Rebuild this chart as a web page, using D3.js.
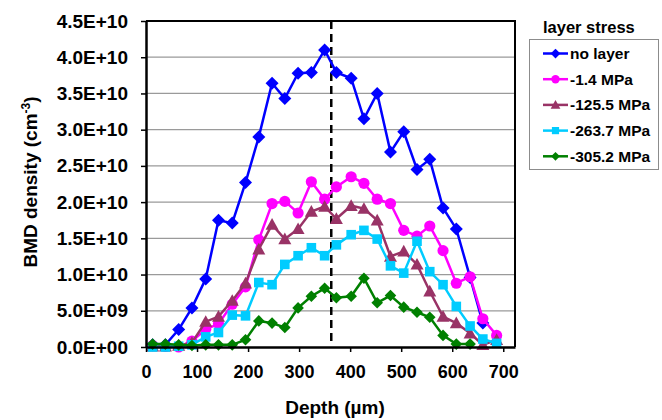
<!DOCTYPE html>
<html>
<head>
<meta charset="utf-8">
<script src="https://cdn.jsdelivr.net/npm/d3@7"></script>
<style>
  html, body { margin: 0; padding: 0; background: #fff; }
  svg { display: block; font-family: "Liberation Sans", Arial, sans-serif; font-weight: bold; }
</style>
</head>
<body>
<svg id="chart" width="662" height="420"></svg>
<script>
// ---- data ----
const depth = [13, 38, 64, 90, 117, 142, 169, 195, 221, 247, 272, 298, 324, 350, 373, 402, 427, 453, 479, 505, 531, 556, 582, 608, 635, 660, 687];
const seriesNames = ["no layer", "-1.4 MPa", "-125.5 MPa", "-263.7 MPa", "-305.2 MPa"];
const noLayer  = [0.3, 0.3, 2.4, 5.4, 9.4, 17.5, 17.1, 22.7, 29.0, 36.4, 34.3, 37.8, 37.9, 41.0, 37.9, 37.1, 31.5, 35.0, 26.9, 29.7, 24.5, 25.9, 19.2, 16.3, 9.6, 3.3, null];
const mpa1_4   = [0.2, 0.1, 0.0, 0.8, 2.45, 3.2, 5.9, 8.3, 14.8, 19.8, 20.1, 18.5, 22.8, 20.4, 22.1, 23.5, 22.6, 20.4, 19.8, 16.1, 15.3, 16.7, 13.3, 8.8, 9.7, 3.9, 1.6];
const mpa125_5 = [0.1, 0.1, 0.2, 0.6, 3.5, 4.2, 6.4, 8.8, 13.5, 16.9, 14.9, 16.3, 18.7, 19.4, 17.7, 19.5, 19.1, 17.5, 12.5, 13.2, 11.4, 7.7, 4.2, 3.3, 1.9, 0.3, 1.0];
const mpa263_7 = [0.0, 0.0, 0.1, 0.3, 1.4, 2.0, 4.4, 4.3, 8.9, 8.6, 11.4, 12.6, 13.7, 12.6, 14.1, 15.5, 16.1, 14.9, 11.2, 10.2, 14.6, 10.4, 8.6, 5.6, 2.9, 1.1, 0.5];
const mpa305_2 = [0.4, 0.4, 0.3, 0.2, 0.3, 0.3, 0.3, 1.0, 3.6, 3.3, 2.7, 5.4, 7.0, 8.1, 6.8, 7.0, 9.5, 6.1, 7.1, 5.5, 4.8, 4.1, 1.6, 0.4, 0.4, null, null];
const valueUnit = 1e9;          // series values above are in units of 1e9 cm^-3
const xTicks = [0, 100, 200, 300, 400, 500, 600, 700];
const yTicks = [0, 5e9, 1e10, 1.5e10, 2e10, 2.5e10, 3e10, 3.5e10, 4e10, 4.5e10];
const markerDepth = 363;        // dashed vertical line
const xMax = 723, yMax = 4.5e10;

// ---- styles ----
const colors  = ["#0000FF", "#FF00FF", "#993366", "#00CCFF", "#008000"];
const symbols = ["diamond", "circle", "triangle", "square", "diamondSmall"];
const allSeries = [noLayer, mpa1_4, mpa125_5, mpa263_7, mpa305_2];

const svg = d3.select("#chart");
const L = 146, R = 515, T = 21, B = 347;
const x = d3.scaleLinear().domain([0, xMax]).range([L, R]);
const y = d3.scaleLinear().domain([0, yMax]).range([B, T]);

function fmtExp(v) {
  const [m, e] = v.toExponential(1).split("e");
  const sign = e[0] === "-" ? "-" : "+";
  const digits = e.replace(/[+-]/, "").padStart(2, "0");
  return m + "E" + sign + digits;
}

function markerPath(type, s) {
  switch (type) {
    case "diamond": { const r = 6.5 * s; return `M0,${-r}L${r},0L0,${r}L${-r},0Z`; }
    case "diamondSmall": { const r = 5.8 * s; return `M0,${-r}L${r},0L0,${r}L${-r},0Z`; }
    case "circle": { const r = 5.6 * s; return `M${r},0A${r},${r} 0 1,1 ${-r},0A${r},${r} 0 1,1 ${r},0Z`; }
    case "triangle": { const h = 6.5 * s; return `M0,${-h}L${h},${h * 0.8}L${-h},${h * 0.8}Z`; }
    case "square": { const r = 4.8 * s; return `M${-r},${-r}H${r}V${r}H${-r}Z`; }
  }
}

// gridlines
svg.append("g").selectAll("line").data(yTicks.slice(1, -1)).join("line")
  .attr("x1", L).attr("x2", R).attr("y1", d => y(d)).attr("y2", d => y(d))
  .attr("stroke", "#9a9a9a").attr("stroke-width", 1.2);

// dashed line
svg.append("line")
  .attr("x1", x(markerDepth)).attr("x2", x(markerDepth)).attr("y1", T).attr("y2", B - 5)
  .attr("stroke", "#000").attr("stroke-width", 2.5).attr("stroke-dasharray", "8,5");

// series
const line = d3.line().defined(d => d.v != null).x(d => x(d.x)).y(d => y(d.v));
allSeries.forEach((vals, i) => {
  const pts = vals.map((v, k) => ({ x: depth[k], v: v == null ? null : v * valueUnit }));
  const g = svg.append("g");
  g.append("path").datum(pts).attr("d", line)
    .attr("fill", "none").attr("stroke", colors[i]).attr("stroke-width", 2.5);
  g.selectAll("path.m").data(pts.filter(d => d.v != null)).join("path").attr("class", "m")
    .attr("d", markerPath(symbols[i], 1))
    .attr("transform", d => `translate(${x(d.x)},${y(d.v)})`)
    .attr("fill", colors[i]);
});

// frame top/right
svg.append("path").attr("d", `M${L},${T}H${R}V${B}`)
  .attr("fill", "none").attr("stroke", "#000").attr("stroke-width", 2);

// axes
const yAxis = svg.append("g").attr("transform", `translate(${L},0)`)
  .call(d3.axisLeft(y).tickValues(yTicks).tickSize(5).tickSizeOuter(0).tickPadding(13).tickFormat(fmtExp));
const xAxis = svg.append("g").attr("transform", `translate(0,${B})`)
  .call(d3.axisBottom(x).tickValues(xTicks).tickSize(5).tickSizeOuter(0).tickPadding(13).tickFormat(d3.format("d")));
[yAxis, xAxis].forEach(a => {
  a.select(".domain").attr("stroke", "#000").attr("stroke-width", 2.5);
  a.selectAll(".tick line").attr("stroke", "#000").attr("stroke-width", 1.5);
  a.selectAll("text").attr("fill", "#000").attr("font-family", '"Liberation Sans", Arial, sans-serif')
    .attr("font-weight", "bold").attr("font-size", 18);
});
yAxis.selectAll("text").attr("font-size", 19);

// axis titles
svg.append("text").attr("x", 335).attr("y", 414).attr("text-anchor", "middle")
  .attr("font-size", 19).text("Depth (µm)");
const yt = svg.append("text").attr("transform", "translate(37,182) rotate(-90)")
  .attr("text-anchor", "middle").attr("font-size", 19);
yt.append("tspan").text("BMD density (cm");
yt.append("tspan").attr("font-size", 12).attr("dy", -7).text("-3");
yt.append("tspan").attr("dy", 7).text(")");

// legend
svg.append("text").attr("x", 543).attr("y", 33).attr("font-size", 16.5).text("layer stress");
svg.append("rect").attr("x", 529.5).attr("y", 39.5).attr("width", 129).attr("height", 130)
  .attr("fill", "#fff").attr("stroke", "#8c8c8c").attr("stroke-width", 1);
const lg = svg.append("g").selectAll("g").data(seriesNames).join("g")
  .attr("transform", (d, i) => `translate(0,${53.5 + i * 25.7})`);
lg.append("line").attr("x1", 543).attr("x2", 568).attr("stroke", (d, i) => colors[i]).attr("stroke-width", 2.5);
lg.append("path").attr("d", (d, i) => markerPath(symbols[i], 0.75))
  .attr("transform", "translate(555.5,0)").attr("fill", (d, i) => colors[i]);
lg.append("text").attr("x", 570).attr("dy", "0.36em").attr("font-size", 15.5).text(d => d);
</script>
</body>
</html>
